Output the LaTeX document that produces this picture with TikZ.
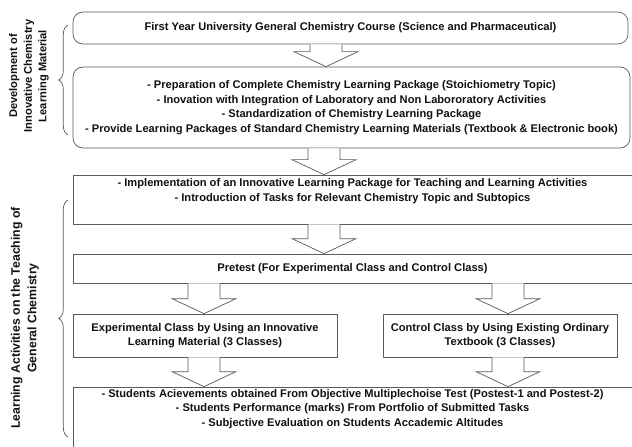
\documentclass[tikz,border=0pt]{standalone}
\usepackage{fontspec}
\setmainfont{Liberation Sans}
\usepackage{tikz}
\usetikzlibrary{calc,decorations.pathreplacing}
\definecolor{FCLine}{HTML}{5A5A5A}
\definecolor{FCText}{HTML}{111111}

\newcommand{\blockarrow}[3]{%
  \coordinate (ax) at (#3,0);
  \draw[barrow] ($(ax |- #1.south)+(-16,0)$) -- ($(ax |- #2.north)+(-16,-15)$) -- ++(-16,0)
    -- (ax |- #2.north) -- ($(ax |- #2.north)+(32,-15)$) -- ++(-16,0) -- ($(ax |- #1.south)+(16,0)$);
}

\begin{document}
\begin{tikzpicture}[x=0.03cm,y=-0.03cm,
  fbox/.style={draw=FCLine,line width=.6pt,inner sep=0pt,align=center,text=FCText,
    font=\bfseries\fontsize{9.5}{12.4}\selectfont},
  rbox/.style={fbox,rounded corners=.3cm},
  barrow/.style={draw=FCLine,fill=white,line width=.6pt},
  brc/.style={draw=FCLine,line width=.6pt,decorate,decoration={brace,amplitude=8pt}},
  lbl/.style={rotate=90,align=center,text=FCText,font=\bfseries\fontsize{9.5}{12.5}\selectfont}]
\path[use as bounding box] (0,0) rectangle (632,447);
\fill[white] (0,0) rectangle (632,447);
\node[rbox,minimum width=16.65cm,minimum height=.96cm] (course) at (350.5,28)
  {First Year University General Chemistry Course (Science and Pharmaceutical)};
\node[rbox,minimum width=16.71cm,minimum height=2.43cm] (develop) at (351.5,107.5)
  {- Preparation of Complete Chemistry Learning Package (Stoichiometry Topic)\\
   - Inovation with Integration of Laboratory and Non Labororatory Activities\\
   - Standardization of Chemistry Learning Package\\
   - Provide Learning Packages of Standard Chemistry Learning Materials (Textbook \& Electronic book)};
\node[fbox,minimum width=16.77cm,minimum height=1.47cm] (implement) at (352.5,199.5)
  {- Implementation of an Innovative Learning Package for Teaching and Learning Activities\\
   - Introduction of Tasks for Relevant Chemistry Topic and Subtopics\\ \strut};
\node[fbox,minimum width=16.77cm,minimum height=.87cm] (pretest) at (352.5,268.5)
  {Pretest (For Experimental Class and Control Class)};
\node[fbox,minimum width=7.92cm,minimum height=1.29cm] (expclass) at (205,335.5)
  {Experimental Class by Using an Innovative\\ Learning Material (3 Classes)};
\node[fbox,minimum width=7.02cm,minimum height=1.29cm] (ctrlclass) at (500,335.5)
  {Control Class by Using Existing Ordinary\\ Textbook (3 Classes)};
\node[fbox,minimum width=16.77cm,minimum height=1.8cm] (results) at (352.5,417)
  {- Students Acievements obtained From Objective Multiplechoise Test (Postest-1 and Postest-2)\\
   - Students Performance (marks) From Portfolio of Submitted Tasks\\
   - Subjective Evaluation on Students Accademic Altitudes\\ \strut};
\blockarrow{course}{develop}{326}
\blockarrow{develop}{implement}{324}
\blockarrow{implement}{pretest}{324}
\blockarrow{pretest}{expclass}{204}
\blockarrow{pretest}{ctrlclass}{508}
\blockarrow{expclass}{results}{204}
\blockarrow{ctrlclass}{results}{508}
\draw[brc] (68,135) -- (68,25);
\draw[brc] (68,437) -- (68,200);
\node[lbl] (devlbl) at (29,76) {Development of\\ Innovative Chemistry\\ Learning Material};
\node[lbl,font=\bfseries\fontsize{10.5}{14}\selectfont] (actlbl) at (25,318)
  {Learning Activities on the Teaching of\\ General Chemistry};
\end{tikzpicture}
\end{document}
